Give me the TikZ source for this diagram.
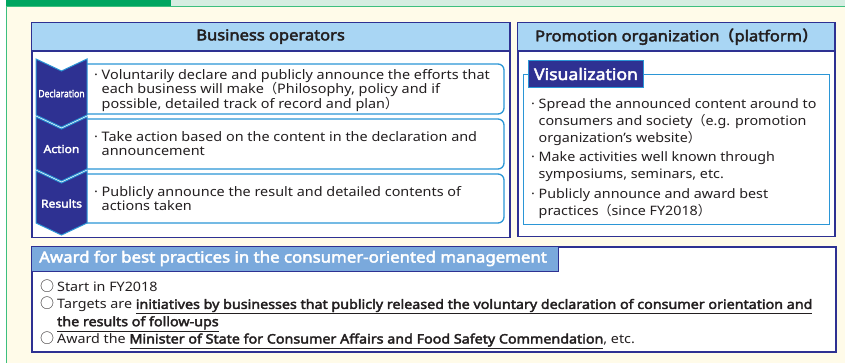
\documentclass[tikz,border=0pt]{standalone}
\usepackage{fontspec}
\setmainfont{Noto Sans}[FakeStretch=1.1, BoldFont={Noto Sans}, BoldFeatures={FakeBold=2.8}]
\newfontfamily\cjk{Noto Sans CJK JP}
\definecolor{dgreen}{HTML}{00A660}
\definecolor{mgreen}{HTML}{3DBF7E}
\definecolor{lgreen}{HTML}{D5EDE1}
\definecolor{cream}{HTML}{FFFBE9}
\definecolor{navy}{HTML}{2E3192}
\definecolor{hblue}{HTML}{A9D6F4}
\definecolor{mblue}{HTML}{2B96D6}
\definecolor{ablue}{HTML}{7AA9DC}
\definecolor{txt}{HTML}{231F20}
\newcommand\bd{\makebox[7.5pt][l]{·}}
\newcommand\ind{\hspace*{7.5pt}}
\newcommand\lp{{\cjk （}}
\newcommand\rp{{\cjk ）}}
\newcommand\ringmark{\makebox[17pt][l]{\cjk\fontsize{14}{14}\selectfont ○}}
\newcommand\ul[1]{\underline{\textbf{#1}}}
\tikzset{
  panel/.style={draw=navy, line width=1.5pt, fill=white, anchor=north west, inner sep=0pt},
  headbar/.style={draw=navy, line width=1.2pt, fill=hblue, anchor=north west, inner sep=0pt},
  rowbox/.style={draw=mblue, line width=1.3pt, fill=white, rounded corners=6pt},
  chevron/.style={fill=navy, draw=mblue, line width=1pt},
  headtext/.style={font=\bfseries\fontsize{15}{16}\selectfont, text=txt},
  chevtext/.style={text=white, font=\bfseries\fontsize{11}{12}\selectfont},
  rowtext/.style={anchor=base west, align=left, inner sep=0pt, text=txt, font=\fontsize{13.1}{14.5}\selectfont},
  promotext/.style={anchor=base west, align=left, inner sep=0pt, text=txt, font=\fontsize{13}{17}\selectfont},
  awardtext/.style={anchor=base west, align=left, inner sep=0pt, text=txt, font=\fontsize{13}{17.3}\selectfont},
}
\begin{document}
\begin{tikzpicture}[x=1pt,y=-1pt]
\useasboundingbox (0,0) rectangle (845,363);
% background
\fill[white] (0,0) rectangle (845,363);
\fill[lgreen] (171,0) rectangle (845,6.5);
\fill[dgreen] (6,0) rectangle (171,6.5);
\fill[cream] (6.5,6.5) rectangle (850,370);
\draw[mgreen, line width=1.2pt] (850,6.8) -- (6.6,6.8) -- (6.6,370);

% Business operators
\node[panel, minimum width=478pt, minimum height=215pt] (bo) at (31,22) {};
\node[headbar, minimum width=478pt, minimum height=28pt] (bohead) at (31,22) {};
\draw[navy, line width=2pt] (bohead.south west) -- (bohead.south east);
\node[headtext] (botitle) at (bohead.center) {Business operators};

% rows
\draw[rowbox] (87,64) -- (504,64) -- (504,114) -- (87,114);
\draw[rowbox] (87,119) -- (504,119) -- (504,169) -- (87,169);
\draw[rowbox] (87,174) -- (504,174) -- (504,223) -- (87,223);

% chevrons
\draw[chevron] (36,59) -- (61.5,71) -- (87,59) -- (87,115) -- (61.5,127) -- (36,115) -- cycle;
\draw[chevron] (36,117) -- (61.5,129) -- (87,117) -- (87,169) -- (61.5,181) -- (36,169) -- cycle;
\draw[chevron] (36,171) -- (61.5,183) -- (87,171) -- (87,223) -- (61.5,235) -- (36,223) -- cycle;
\node[chevtext, font=\bfseries\fontsize{10}{11}\selectfont] (decl) at (61.5,93.5) {\scalebox{0.78}[1]{Declaration}};
\node[chevtext] (act) at (61.5,149) {Action};
\node[chevtext] (res) at (61.5,203.5) {Results};

\node[rowtext] (t1) at (94,108.5) {\bd Voluntarily declare and publicly announce the efforts that\\
\ind each business will make\lp Philosophy, policy and if\\
\ind possible, detailed track of record and plan\rp};
\node[rowtext] (t2) at (94,156) {\bd Take action based on the content in the declaration and\\
\ind announcement};
\node[rowtext] (t3) at (94,211) {\bd Publicly announce the result and detailed contents of\\
\ind actions taken};

% Promotion organization
\node[panel, minimum width=317pt, minimum height=214pt] (po) at (517,22) {};
\node[headbar, minimum width=317pt, minimum height=28pt] (pohead) at (517,22) {};
\draw[navy, line width=2pt] (pohead.south west) -- (pohead.south east);
\node[headtext] (potitle) at (pohead.center) {Promotion organization\lp platform\rp};

\node[draw=mblue, line width=1.3pt, fill=white, anchor=north west, minimum width=306pt, minimum height=150pt, inner sep=0pt] (vis) at (523,74) {};
\node[fill=navy, draw=mblue, line width=1pt, anchor=north west, minimum width=115pt, minimum height=27pt, inner sep=0pt] (vislab) at (528,60) {};
\node[text=white, font=\bfseries\fontsize{16}{18}\selectfont] (vistitle) at (vislab.center) {Visualization};

\node[promotext] (pt) at (531,215) {\bd Spread the announced content around to\\
\ind consumers and society\lp e.g. promotion\\
\ind organization’s website\rp\\[2.5pt]
\bd Make activities well known through\\
\ind symposiums, seminars, etc.\\[2pt]
\bd Publicly announce and award best\\
\ind practices\lp since FY2018\rp};

% Award
\node[panel, minimum width=804pt, minimum height=105pt] (aw) at (31,246) {};
\node[draw=navy, line width=1.2pt, fill=ablue, anchor=north west, minimum width=527pt, minimum height=25pt, inner sep=0pt] (awhead) at (31,246) {};
\node[anchor=west, inner sep=0pt, text=white, font=\bfseries\fontsize{15.3}{16}\selectfont] (awtitle) at (39,258.5) {Award for best practices in the consumer-oriented management};

\node[awardtext] (at) at (40,343.5) {\ringmark Start in FY2018\\
\ringmark Targets are \ul{initiatives by businesses that publicly released the voluntary declaration of consumer orientation and}\\
\hspace*{17pt}\ul{the results of follow-ups}\\
\ringmark Award the \ul{Minister of State for Consumer Affairs and Food Safety Commendation}, etc.};
\end{tikzpicture}
\end{document}
